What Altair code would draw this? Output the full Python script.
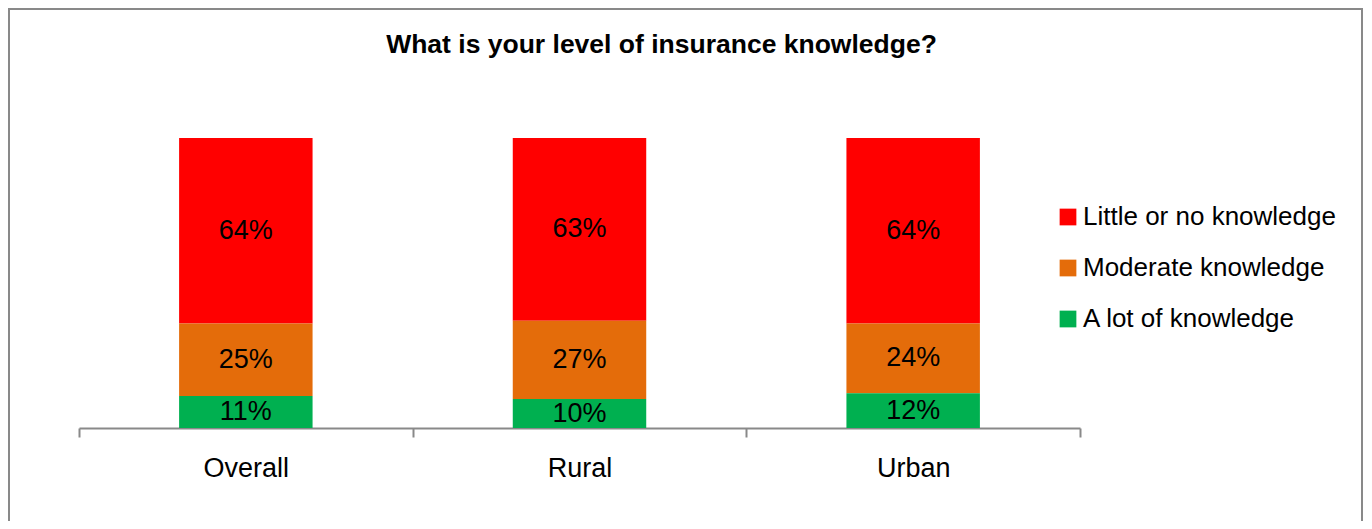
import altair as alt
import pandas as pd

categories = ["Overall", "Rural", "Urban"]
levels = ["Little or no knowledge", "Moderate knowledge", "A lot of knowledge"]
little = [64, 63, 64]
moderate = [25, 27, 24]
a_lot = [11, 10, 12]
colors = ["#FF0000", "#E46C0A", "#00B050"]
title_text = "What is your level of insurance knowledge?"

rows = []
for i, c in enumerate(categories):
    for j, (lev, vals) in enumerate(zip(levels, [little, moderate, a_lot])):
        rows.append({"cat": c, "level": lev, "value": vals[i], "ord": 2 - j})
df = pd.DataFrame(rows)

W, H = 1001, 290
FONT = "Liberation Sans"
GREY = "#898989"
FS = 27


def xenc():
    return alt.X(
        "cat:N",
        sort=categories,
        scale=alt.Scale(paddingInner=0, paddingOuter=0),
        axis=alt.Axis(
            title=None, labelAngle=0, tickBand="extent",
            domainColor=GREY, domainWidth=2, tickColor=GREY, tickWidth=2,
            tickSize=9, labelFontSize=FS, labelFont=FONT, labelColor="black",
            labelPadding=18, grid=False,
        ),
    )


base = alt.Chart(df).transform_stack(
    stack="value", groupby=["cat"], as_=["y0", "y1"],
    sort=[alt.SortField("ord", order="ascending")],
).transform_calculate(
    mid="(datum.y0 + datum.y1) / 2",
    label="datum.value + '%'",
)

yscale = alt.Scale(domain=[0, 100])

bars = base.mark_bar(width=alt.RelativeBandSize(0.4)).encode(
    x=xenc(),
    y=alt.Y("y0:Q", scale=yscale, axis=None),
    y2="y1:Q",
    color=alt.Color(
        "level:N",
        scale=alt.Scale(domain=levels, range=colors),
        legend=alt.Legend(
            title=None, orient="none", legendX=976, legendY=66,
            symbolType="square", symbolSize=280, symbolStrokeWidth=0,
            labelFontSize=26, labelFont=FONT, labelColor="black",
            labelLimit=500, rowPadding=25, labelOffset=2, padding=0,
        ),
    ),
)

labels = base.mark_text(
    font=FONT, fontSize=FS, color="black", baseline="middle", align="center"
).encode(
    x=xenc(),
    y=alt.Y("mid:Q", scale=yscale, axis=None),
    text="label:N",
)

title = alt.Chart(pd.DataFrame({"t": [title_text]})).mark_text(
    font=FONT, fontSize=26.5, fontWeight="bold", color="black",
    align="center", baseline="middle",
).encode(x=alt.value(582.5), y=alt.value(-93), text="t:N")

border = alt.Chart(pd.DataFrame({"a": [0]})).mark_rect(
    fillOpacity=0, stroke=GREY, strokeWidth=2
).encode(
    x=alt.value(-70), x2=alt.value(1283), y=alt.value(-129), y2=alt.value(420)
)

chart = alt.layer(border, bars, labels, title).properties(
    width=W, height=H,
    autosize=alt.AutoSizeParams(type="none"),
    padding={"left": 71, "top": 130, "right": 284, "bottom": 93},
).configure(font=FONT).configure_view(strokeWidth=0)

chart.save("out.html", embed_options={"renderer": "svg", "actions": False})
